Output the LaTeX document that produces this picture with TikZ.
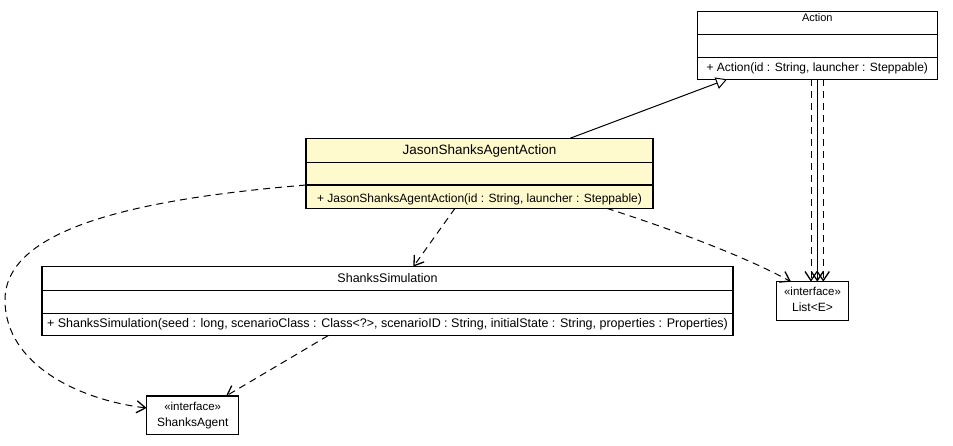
\documentclass[tikz,border=0pt]{standalone}
\usepackage{fontspec}
\setmainfont{Liberation Sans}
\usetikzlibrary{arrows.meta}
\definecolor{classfill}{HTML}{FFFACD}
\newcommand{\fs}[1]{\fontsize{#1}{#1}\selectfont}
\begin{document}
\begin{tikzpicture}[x=1pt,y=-1pt,
  umlbox/.style={draw=black,line width=1.2pt,fill=white,inner sep=0pt,outer sep=0pt},
  label/.style={anchor=base,inner sep=0pt,font=\fs{12}},
  depend/.style={line width=1pt,dash pattern=on 7pt off 5pt,-{Straight Barb[length=9pt,width=12pt,line width=1.3pt]}},
  assoc/.style={line width=1pt,-{Straight Barb[length=9pt,width=12pt,line width=1.3pt]}},
  inherit/.style={line width=1pt,-{Triangle[open,length=11pt,width=12pt,fill=white]}}]
\useasboundingbox (0,0) rectangle (953,445);

% class boxes
\node[umlbox,minimum width=240pt,minimum height=67.6pt] (action) at (817.3,45.5) {};
\node[umlbox,fill=classfill,minimum width=347pt,minimum height=70pt] (jsaa) at (479.5,173.3) {};
\node[umlbox,minimum width=691pt,minimum height=69pt] (ss) at (387.5,301.2) {};
\node[umlbox,minimum width=92pt,minimum height=38.3pt] (sa) at (192.7,415.2) {};
\node[umlbox,minimum width=71.6pt,minimum height=39pt] (list) at (812.5,301.2) {};

% compartment separators
\draw[line width=1.2pt] ([yshift=-22.6pt]action.north west) -- ([yshift=-22.6pt]action.north east);
\draw[line width=1.2pt] ([yshift=-45.6pt]action.north west) -- ([yshift=-45.6pt]action.north east);
\draw[line width=1.2pt] ([yshift=-24.4pt]jsaa.north west) -- ([yshift=-24.4pt]jsaa.north east);
\draw[line width=1.2pt] ([yshift=-46.7pt]jsaa.north west) -- ([yshift=-46.7pt]jsaa.north east);
\draw[line width=1.2pt] ([yshift=-24pt]ss.north west) -- ([yshift=-24pt]ss.north east);
\draw[line width=1.2pt] ([yshift=-46.6pt]ss.north west) -- ([yshift=-46.6pt]ss.north east);

% texts
\node[label,font=\fs{11}] (actionname) at (817.3,21) {Action};
\node[label] (actionop) at (817.3,71) {+ Action(id : String, launcher : Steppable)};
\node[label,font=\fs{13.5}] (jsaaname) at (479.5,154) {JasonShanksAgentAction};
\node[label] (jsaaop) at (479.5,202.5) {+ JasonShanksAgentAction(id : String, launcher : Steppable)};
\node[label,font=\fs{12.5}] (ssname) at (387.5,282) {ShanksSimulation};
\node[label,font=\fs{12.5}] (ssop) at (387.5,327) {+ ShanksSimulation(seed : long, scenarioClass : Class<?>, scenarioID : String, initialState : String, properties : Properties)};
\node[label,font=\fs{11.5}] (sastereo) at (192.7,410) {«interface»};
\node[label] (saname) at (192.7,426.5) {ShanksAgent};
\node[label,font=\fs{11.5}] (liststereo) at (812.5,295.5) {«interface»};
\node[label] (listname) at (812.5,311.5) {List<E>};

% generalization
\draw[inherit] ([xshift=90.5pt]jsaa.north) -- ([xshift=-90.3pt]action.south);

% Action -> List
\draw[depend] ([xshift=-6.3pt]action.south) -- ([xshift=-6.3pt]action.south |- list.north);
\draw[assoc] (action.south) -- (action.south |- list.north);
\draw[depend] ([xshift=6pt]action.south) -- ([xshift=6pt]action.south |- list.north);

% dependencies
\draw[depend] ([xshift=127.2pt]jsaa.south) .. controls +(53,17) and +(-51,-28) .. ([xshift=-21.5pt]list.north);
\draw[depend] ([xshift=-24.5pt]jsaa.south) -- ([xshift=25.8pt]ss.north);
\draw[depend] ([xshift=-59.5pt]ss.south) -- ([xshift=33.3pt]sa.north);
\draw[depend] ([yshift=-11.7pt]jsaa.west) .. controls (150,198) and (5,225) .. (5,300)
  .. controls (5,365) and (80,400) .. ([yshift=7.2pt]sa.west);
\end{tikzpicture}
\end{document}
